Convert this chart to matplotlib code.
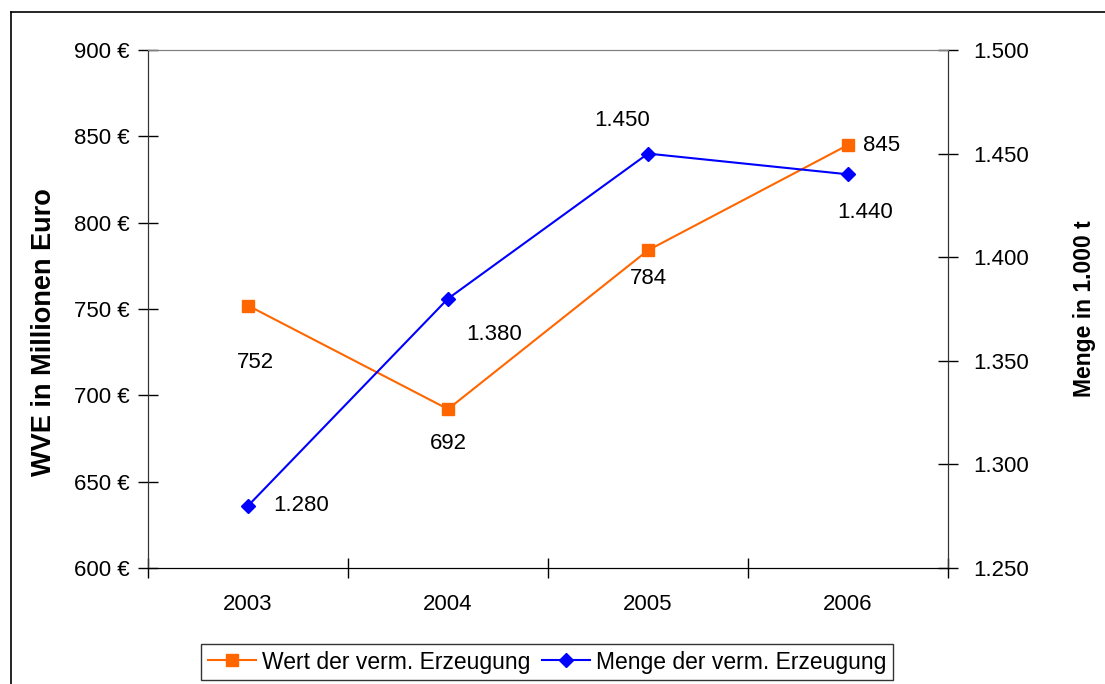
import matplotlib
matplotlib.use("Agg")
import matplotlib.pyplot as plt
from matplotlib.lines import Line2D
from matplotlib.ticker import FixedLocator, FuncFormatter

plt.rcParams['font.family'] = ['Liberation Sans', 'DejaVu Sans']

years = ['2003', '2004', '2005', '2006']
wert = [752, 692, 784, 845]          # Mio Euro
menge = [1280, 1380, 1450, 1440]     # 1.000 t

# label offsets in pixels (dx, dy) for each point
wert_off = [(7, -57), (0, -34), (0, -28), (34, -1)]
menge_off = [(53, 0), (46, -36), (-26, 33), (17, -38)]

def de(v):
    return f"{v:,.0f}".replace(",", ".")

fig = plt.figure(figsize=(11.05, 6.84), dpi=100)
ax = fig.add_axes([148/1105, 1-568/684, 800/1105, 518/684])
ax2 = ax.twinx()

x = list(range(1, len(years)+1))
l1, = ax.plot(x, wert, color='#FF6600', marker='s', markersize=8, lw=1.5,
              label='Wert der verm. Erzeugung')
l2, = ax2.plot(x, menge, color='#0000FF', marker='D', markersize=7, lw=1.5,
               label='Menge der verm. Erzeugung')

for xi, v, (dx, dy) in zip(x, wert, wert_off):
    ax.annotate(str(v), (xi, v), xytext=(dx, dy), textcoords='offset pixels',
                ha='center', va='center', fontsize=16)
for xi, v, (dx, dy) in zip(x, menge, menge_off):
    ax2.annotate(de(v), (xi, v), xytext=(dx, dy), textcoords='offset pixels',
                 ha='center', va='center', fontsize=16)

ax.set_xlim(0.5, 4.5)
ax.set_ylim(600, 900)
ax2.set_ylim(1250, 1500)
ax.set_yticks(range(600, 901, 50))
ax2.set_yticks(range(1250, 1501, 50))
ax.yaxis.set_major_formatter(FuncFormatter(lambda v, p: f"{v:.0f} €"))
ax2.yaxis.set_major_formatter(FuncFormatter(lambda v, p: de(v)))

ax.xaxis.set_major_locator(FixedLocator([0.5, 1.5, 2.5, 3.5, 4.5]))
ax.xaxis.set_minor_locator(FixedLocator(x))
ax.set_xticklabels([])
ax.set_xticklabels(years, minor=True)
ax.tick_params(axis='x', which='major', direction='inout', length=15, width=1)
ax.tick_params(axis='x', which='minor', length=0, pad=19, labelsize=16)
ax.tick_params(axis='y', direction='inout', length=15, width=1, pad=6, labelsize=16)
ax2.tick_params(axis='y', direction='inout', length=15, width=1, pad=11, labelsize=16)

for a in (ax, ax2):
    a.spines['top'].set_color('#808080')
    a.spines['left'].set_color('#333333')
    a.spines['right'].set_color('#333333')
    a.spines['bottom'].set_color('#000000')

ax.set_ylabel('WVE in Millionen Euro', fontsize=19.5, fontweight='bold')
ax.yaxis.set_label_coords(-0.114, 0.456)
ax2.set_ylabel('Menge in 1.000 t', fontsize=16.5, fontweight='bold', labelpad=31)

leg = fig.legend(handles=[l1, l2], loc='center', bbox_to_anchor=(547/1105, 1-662/684),
                 ncol=2, fontsize=16.5, frameon=True, fancybox=False, handlelength=2.1,
                 columnspacing=0.5, handletextpad=0.26, borderpad=0.3, borderaxespad=0)
leg.get_frame().set_edgecolor('#000000')
leg.get_frame().set_linewidth(1)

# outer chart border
fig.add_artist(Line2D([11/1105, 11/1105], [0, 1-12/684], color='black', lw=1.2,
                      transform=fig.transFigure))
fig.add_artist(Line2D([11/1105, 1], [1-12/684, 1-12/684], color='black', lw=1.2,
                      transform=fig.transFigure))

fig.savefig('out.png', dpi=100)
